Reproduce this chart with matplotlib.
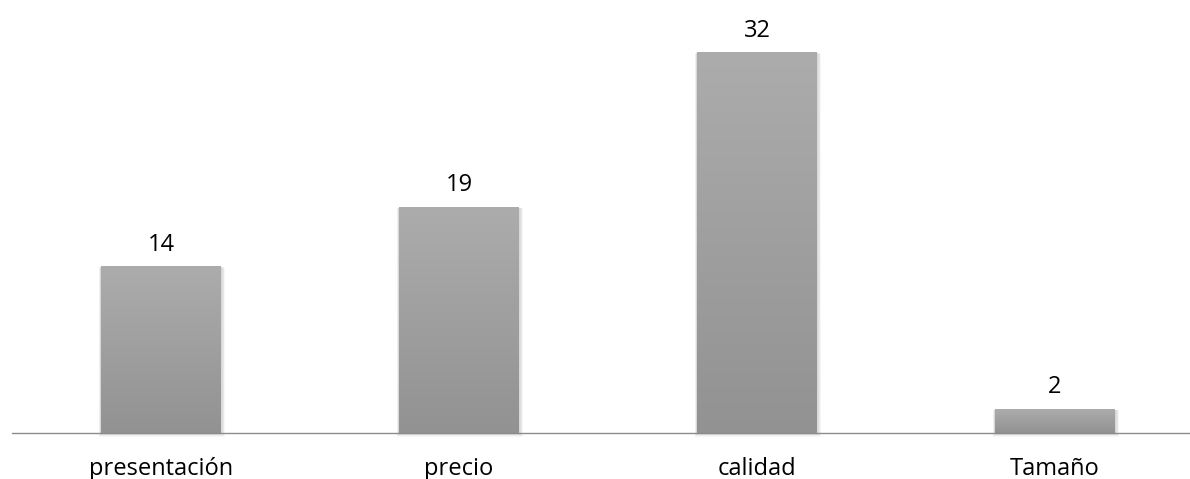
import numpy as np
import matplotlib
matplotlib.use("Agg")
import matplotlib.pyplot as plt
from matplotlib.patches import Rectangle
from matplotlib.colors import LinearSegmentedColormap

categories = ["presentación", "precio", "calidad", "Tamaño"]
values = [14, 19, 32, 2]

plt.rcParams['font.family'] = ['Open Sans', 'DejaVu Sans']

fig = plt.figure(figsize=(11.9, 4.79), dpi=100)
# axes in figure fractions; right edge extends past the canvas slightly
ax = fig.add_axes([12 / 1190, 46 / 479, 1192 / 1190, 428 / 479])

x = np.arange(len(categories))
bars = ax.bar(x, values, width=0.4, color="none", edgecolor="none", zorder=3)

ax.set_xlim(-0.5, 3.5)
ax.set_ylim(0, 36)

grad = LinearSegmentedColormap.from_list("g", ["#929292", "#acacac"])
for b, v in zip(bars, values):
    x0, w, h = b.get_x(), b.get_width(), b.get_height()
    # soft drop shadow around the bar
    for k in range(6):
        dx = 0.003 + 0.0025 * k
        dy = 0.06 + 0.05 * k
        ax.add_patch(Rectangle((x0 - dx * 0.6, -dy), w + 1.6 * dx, h + dy * 0.7,
                               facecolor="#000000", alpha=0.03,
                               edgecolor="none", zorder=2, clip_on=False))
    img = np.linspace(0, 1, 256).reshape(-1, 1)
    ax.imshow(img, cmap=grad, origin="lower", aspect="auto",
              extent=(x0, x0 + w, 0, h), zorder=3)
    ax.text(b.get_x() + w / 2, h + 1.85, str(v), ha="center", va="center",
            fontsize=17, color="#000000")

ax.set_xticks(x)
ax.set_xticklabels(categories, fontsize=17, color="#000000")
ax.tick_params(axis="x", length=0, pad=17)
ax.set_yticks([])
for s in ["top", "right", "left"]:
    ax.spines[s].set_visible(False)
ax.spines["bottom"].set_color("#8c8c8c")
ax.spines["bottom"].set_linewidth(1.0)
ax.spines["bottom"].set_zorder(4)
ax.set_xlim(-0.5, 3.5)
ax.set_ylim(0, 36)

fig.savefig("out.png", dpi=100)
